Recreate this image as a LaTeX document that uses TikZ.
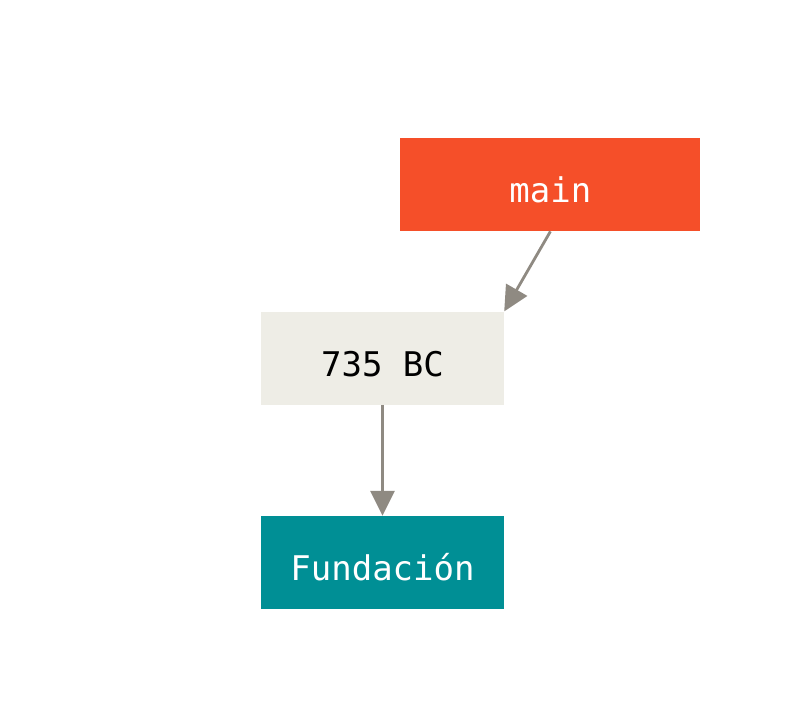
\documentclass[tikz,border=0pt]{standalone}
\usepackage{fontspec}
\setmonofont{DejaVu Sans Mono}
\usepackage{tikz}
\usetikzlibrary{positioning,arrows.meta}
\usepackage{xcolor}
\definecolor{branchred}{HTML}{F54F29}
\definecolor{commitgray}{HTML}{EEEDE6}
\definecolor{rootteal}{HTML}{008F95}
\definecolor{arrowgray}{HTML}{8F8A82}

\begin{document}
\begin{tikzpicture}[
  x=1pt, y=1pt,
  box/.style={minimum width=243pt, minimum height=93pt, inner sep=0pt, text height=36pt, text depth=0pt, font=\ttfamily\fontsize{34}{40}\selectfont},
  arrow/.style={-{Triangle[length=25pt,width=24pt]}, line width=2.8pt, draw=arrowgray, fill=arrowgray}
]
\useasboundingbox (0,0) rectangle (800,-715);
\node[box, fill=rootteal, text=white] (fund) at (382.5,-562.5) {Fundación};
\node[box, fill=commitgray, text=black, above=111pt of fund] (c735) {735 BC};
\node[box, fill=branchred, text=white, minimum width=300pt, above right=80pt and -104pt of c735] (main) {main};
\draw[arrow] (main.south) -- (c735.north east);
\draw[arrow] (c735.south) -- (fund.north);
\end{tikzpicture}
\end{document}
